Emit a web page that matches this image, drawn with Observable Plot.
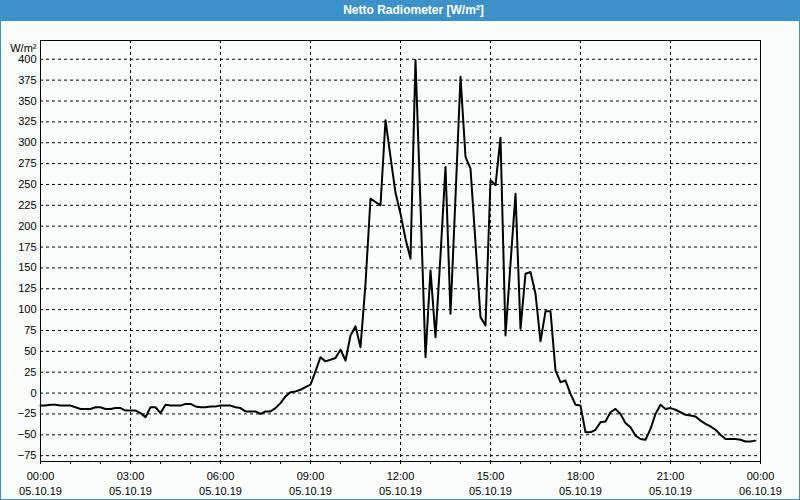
<!DOCTYPE html>
<html><head><meta charset="utf-8">
<script src="https://cdn.jsdelivr.net/npm/d3@7"></script>
<script src="https://cdn.jsdelivr.net/npm/@observablehq/plot@0.6"></script>
<style>
html,body{margin:0;padding:0;background:#fbfdfd;}
#win{position:relative;width:800px;height:500px;overflow:hidden;background:#fbfdfd;font-family:"Liberation Sans",Arial,sans-serif;}
#border{position:absolute;left:0;top:0;width:800px;height:500px;box-sizing:border-box;border:1px solid #3c91c8;pointer-events:none;z-index:3;}
#bar{position:absolute;left:0;top:0;width:800px;height:21px;background:#3c91c8;z-index:2;}
#title{position:absolute;left:0;top:0;width:800px;height:21px;line-height:21px;padding-left:27px;box-sizing:border-box;text-align:center;color:#fff;font-weight:bold;font-size:12px;z-index:4;}
#chart{position:absolute;left:0;top:0;z-index:1;}
</style>
</head><body>
<div id="win"><div id="bar"></div><div id="title">Netto Radiometer [W/m²]</div><div id="chart"></div><div id="border"></div></div>
<script>
// 10-minute samples starting 05.10.19 00:00
const startTime = Date.UTC(2019, 9, 5, 0, 0);
const endTime = Date.UTC(2019, 9, 6, 0, 0);
const stepMinutes = 10;
const values = [
  -15,-15,-14,-14,-15,-15,-15,-17,-19,-19,-19,-17,-17,-19,-19,-18,-18,-21,-21,-21,
  -24,-29,-17,-17,-24,-14,-15,-15,-15,-13,-13,-16,-17,-17,-16,-16,-15,-15,-15,-17,
  -18,-22,-22,-22,-25,-22,-22,-18,-12,-4,1,2,4,7,10,26,43,38,40,42,
  52,39,69,80,55,131,233,229,225,327,283,240,215,185,161,399,225,43,147,67,
  165,271,95,235,379,283,269,180,91,81,255,249,306,69,155,239,77,143,145,119,
  62,98,98,27,13,15,-1,-14,-15,-47,-47,-44,-35,-34,-23,-19,-25,-36,-41,-51,
  -55,-56,-43,-25,-14,-19,-18,-20,-23,-26,-27,-28,-33,-37,-40,-44,-50,-55,-55,-55,
  -56,-58,-58,-57
];
const yTicks = [-75,-50,-25,0,25,50,75,100,125,150,175,200,225,250,275,300,325,350,375,400];
const labelHours = [0,3,6,9,12,15,18,21,24];
const labelTimes = ["00:00","03:00","06:00","09:00","12:00","15:00","18:00","21:00","00:00"];
const labelDays = ["05.10.19","05.10.19","05.10.19","05.10.19","05.10.19","05.10.19","05.10.19","05.10.19","06.10.19"];
const gridHours = [3,6,9,12,15,18,21];
const minorHours = d3.range(0, 25);
const yUnit = "W/m²";

const H = 3600000;
const data = values.map((v, i) => ({t: new Date(startTime + i * stepMinutes * 60000), v}));
const labelDates = labelHours.map(h => new Date(startTime + h * H));
const timeMap = new Map(labelDates.map((d, i) => [d.getTime(), labelTimes[i]]));
const dayMap = new Map(labelDates.map((d, i) => [d.getTime(), labelDays[i]]));
const gridDates = gridHours.map(h => new Date(startTime + h * H));
const minorDates = minorHours.map(h => new Date(startTime + h * H));

const chart = Plot.plot({
  width: 800, height: 500,
  marginTop: 40, marginBottom: 39, marginLeft: 40, marginRight: 40,
  style: {background: "transparent", fontFamily: "'Liberation Sans', Arial, sans-serif", fontSize: "11px", color: "#000"},
  x: {type: "utc", domain: [new Date(startTime), new Date(endTime)]},
  y: {domain: [-82, 422.5]},
  marks: [
    Plot.gridY(yTicks, {stroke: "#000", strokeOpacity: 1, strokeDasharray: "3,3"}),
    Plot.gridX(gridDates, {stroke: "#000", strokeOpacity: 1, strokeDasharray: "3,3"}),
    Plot.axisY(yTicks, {tickSize: 0, tickPadding: 4, label: null, fill: "#000"}),
    Plot.axisX(minorDates, {tickSize: 3, tickFormat: () => "", label: null, stroke: "#000"}),
    Plot.axisX(labelDates, {tickSize: 0, tickPadding: 11, tickFormat: d => timeMap.get(d.getTime()), label: null, fill: "#000"}),
    Plot.axisX(labelDates, {tickSize: 0, tickPadding: 26, tickFormat: d => dayMap.get(d.getTime()), label: null, fill: "#000"}),
    Plot.text([yUnit], {frameAnchor: "top-left", dx: -4, dy: 4, textAnchor: "end", fill: "#000", fontSize: 11}),
    Plot.line(data, {x: "t", y: "v", stroke: "#000", strokeWidth: 2}),
    Plot.frame({stroke: "#000", strokeWidth: 1})
  ]
});
document.getElementById("chart").appendChild(chart);
</script>
</body></html>
